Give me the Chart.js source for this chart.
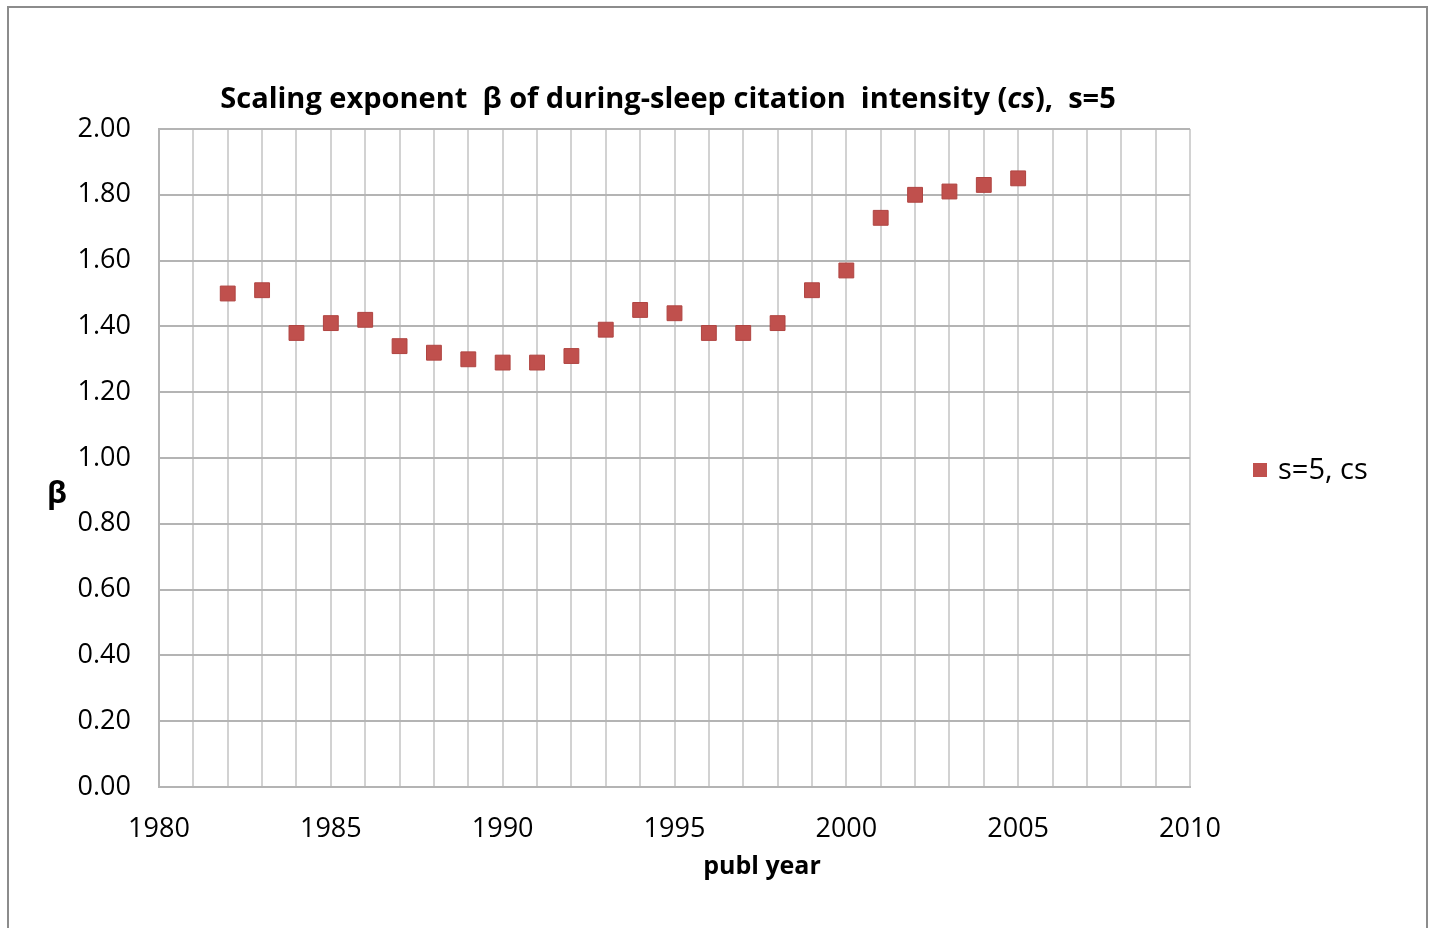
<!DOCTYPE html>
<html lang="en">
<head>
  <meta charset="UTF-8">
  <title>Scaling exponent beta</title>
  <script src="https://cdn.jsdelivr.net/npm/chart.js"></script>
  <style>
    html, body {
      margin: 0;
      padding: 0;
      background: #ffffff;
      overflow: hidden;
    }
    #wrap {
      width: 1431px;
      height: 928px;
    }
  </style>
</head>
<body>
  <div id="wrap"><canvas id="grafico"></canvas></div>

  <script>
    // data
    const years = [1982, 1983, 1984, 1985, 1986, 1987, 1988, 1989, 1990, 1991, 1992, 1993,
                   1994, 1995, 1996, 1997, 1998, 1999, 2000, 2001, 2002, 2003, 2004, 2005];
    const beta = [1.50, 1.51, 1.38, 1.41, 1.42, 1.34, 1.32, 1.30, 1.29, 1.29, 1.31, 1.39,
                  1.45, 1.44, 1.38, 1.38, 1.41, 1.51, 1.57, 1.73, 1.80, 1.81, 1.83, 1.85];
    const seriesLabel = 's=5, cs';
    const xMin = 1980, xMax = 2010, xLabelStep = 5;
    const yMin = 0, yMax = 2, yStep = 0.2;

    const FONT = '"Open Sans", "DejaVu Sans", sans-serif';
    const red = '#c0504d';

    // title with italic "cs", the beta y label, the x title, legend and frame
    const decor = {
      id: 'decor',
      beforeDraw(chart) {
        const ctx = chart.ctx;
        ctx.save();
        ctx.fillStyle = '#ffffff';
        ctx.fillRect(0, 0, chart.width, chart.height);
        ctx.restore();
      },
      afterDraw(chart) {
        const ctx = chart.ctx;
        ctx.save();

        // frame
        ctx.strokeStyle = '#8c8c8c';
        ctx.lineWidth = 2;
        ctx.strokeRect(8, 7, 1419, 940);

        // title
        const parts = [
          ['bold', 'Scaling exponent  \u03b2 of during-sleep citation  intensity ('],
          ['italic bold', 'cs'],
          ['bold', '),  s=5']
        ];
        const size = 29;
        let total = 0;
        parts.forEach(p => {
          ctx.font = p[0] + ' ' + size + 'px ' + FONT;
          total += ctx.measureText(p[1]).width;
        });
        let x = 668 - total / 2;
        ctx.fillStyle = '#000000';
        ctx.textBaseline = 'middle';
        ctx.textAlign = 'left';
        parts.forEach(p => {
          ctx.font = p[0] + ' ' + size + 'px ' + FONT;
          ctx.fillText(p[1], x, 100);
          x += ctx.measureText(p[1]).width;
        });

        // axis titles
        ctx.textAlign = 'center';
        ctx.font = 'bold 30px ' + FONT;
        ctx.fillText('\u03b2', 57, 494);
        ctx.font = 'bold 25px ' + FONT;
        ctx.fillText('publ year', 762, 867);

        // legend
        const ds = chart.data.datasets[0];
        ctx.fillStyle = ds.backgroundColor;
        ctx.fillRect(1253, 463, 14, 14);
        ctx.fillStyle = '#000000';
        ctx.textAlign = 'left';
        ctx.font = '29px ' + FONT;
        ctx.fillText(ds.label, 1278, 471);

        ctx.restore();
      }
    };

    new Chart(document.getElementById('grafico'), {
      type: 'scatter',
      data: {
        datasets: [{
          label: seriesLabel,
          data: years.map((y, i) => ({ x: y, y: beta[i] })),
          backgroundColor: red,
          borderColor: '#b04441',
          borderWidth: 1,
          pointStyle: 'rect',
          pointRadius: 10.5,
          pointHoverRadius: 10.5
        }]
      },
      plugins: [decor],
      options: {
        responsive: true,
        maintainAspectRatio: false,
        animation: false,
        layout: {
          padding: { top: 129, right: 241, left: 0, bottom: 81 }
        },
        plugins: {
          legend: { display: false },
          title: { display: false },
          tooltip: { enabled: false }
        },
        scales: {
          x: {
            type: 'linear',
            min: xMin,
            max: xMax,
            afterFit(scale) { scale.height = 60; },
            ticks: {
              stepSize: 1,
              autoSkip: false,
              maxRotation: 0,
              padding: 26,
              color: '#000000',
              font: { family: FONT, size: 27 },
              callback: v => (v % xLabelStep === 0 ? String(v) : '')
            },
            grid: { color: '#d2d2d2', lineWidth: 2, drawTicks: false },
            border: { color: '#b4b4b4', width: 2 }
          },
          y: {
            min: yMin,
            max: yMax,
            afterFit(scale) { scale.width = 159; },
            ticks: {
              stepSize: yStep,
              padding: 28,
              color: '#000000',
              font: { family: FONT, size: 27 },
              callback: v => v.toFixed(2)
            },
            grid: { color: '#b4b4b4', lineWidth: 2, drawTicks: false },
            border: { color: '#b4b4b4', width: 2 }
          }
        }
      }
    });
  </script>
</body>
</html>
